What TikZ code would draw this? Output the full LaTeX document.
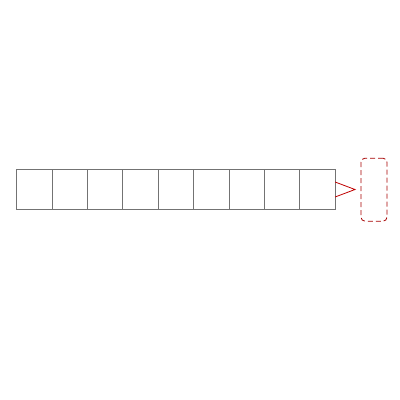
\documentclass[tikz,border=0pt]{standalone}
\begin{document}
\begin{tikzpicture}[x=1pt,y=-1pt,
  cell/.style={draw=black!55,line width=0.8pt,minimum width=35.4pt,minimum height=40pt,inner sep=0pt,outer sep=0pt},
  redline/.style={draw=red!75!black,line width=0.8pt}]
\useasboundingbox (0,0) rectangle (400,400);
\foreach \i in {0,...,8}{
  \node[cell,anchor=north west] (c\i) at ({16.5+35.4*\i},169.5) {};
}
\coordinate (tipB) at (355,189.5);
\draw[redline,line join=miter] ([yshift=7.5pt]c8.east) -- (tipB) -- ([yshift=-7.5pt]c8.east);
\node[draw=red!65!black,dash pattern=on 5pt off 3pt,line width=0.8pt,rounded corners=4pt,minimum width=26pt,minimum height=63pt,inner sep=0pt] (box) at (374,189.7) {};
\end{tikzpicture}
\end{document}
